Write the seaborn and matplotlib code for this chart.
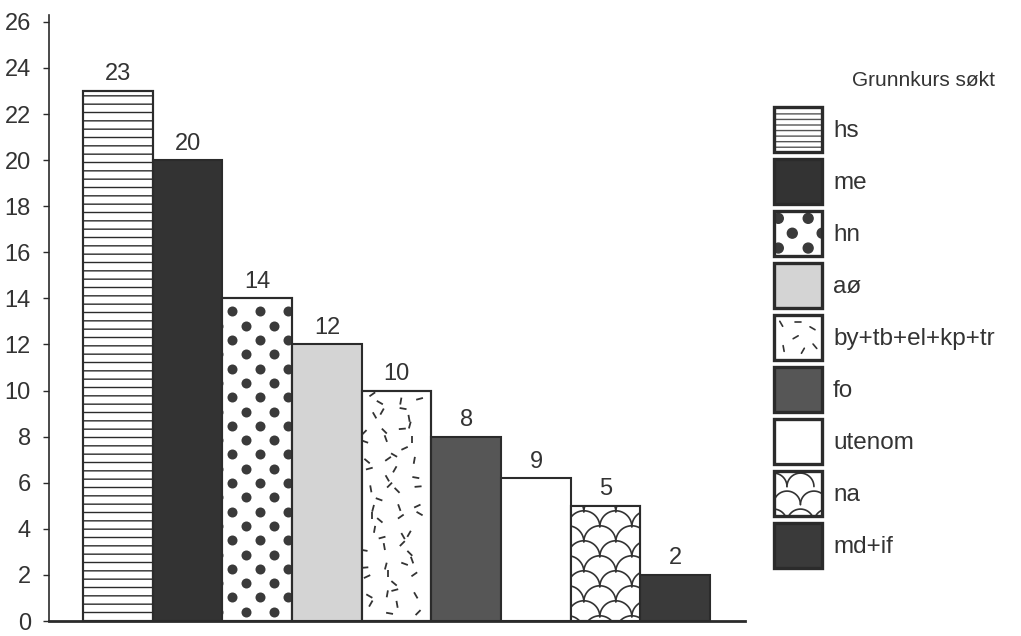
import numpy as np
import pandas as pd
import matplotlib
matplotlib.use('Agg')
import matplotlib.pyplot as plt
import seaborn as sns
from matplotlib.patches import Rectangle, Circle, Polygon, Patch
from matplotlib.collections import LineCollection
from matplotlib.legend_handler import HandlerBase

# data
kurs = ['hs', 'me', 'hn', 'aø', 'by+tb+el+kp+tr', 'fo', 'utenom', 'na', 'md+if']
hoyde = [23, 20, 14, 12, 10, 8, 6.2, 5, 2]
etikett = ['23', '20', '14', '12', '10', '8', '9', '5', '2']

# look of each bar
farger = ['white', '#333333', 'white', '#d4d4d4', 'white', '#565656', 'white', 'white', '#3a3a3a']
monster = ['wave', None, 'dots', None, 'dash', None, None, 'scales', None]
kant = '#2b2b2b'
tekst = '#333333'

sns.set_style('ticks')
plt.rcParams['font.family'] = ['Liberation Sans', 'DejaVu Sans']
plt.rcParams['hatch.linewidth'] = 1.0

fig = plt.figure(figsize=(10.21, 6.36), dpi=100)
ax = fig.add_axes([49/1021, 1 - 621/636, (745 - 49)/1021, (621 - 15)/636])

df = pd.DataFrame({'kurs': kurs, 'antall': hoyde})
sns.barplot(data=df, x='kurs', y='antall', hue='kurs', palette=dict(zip(kurs, farger)),
            width=1.0, saturation=1, edgecolor=kant, linewidth=1.5, legend=False, ax=ax)

ax.set_xlim(-0.99, 9.0)
ax.set_ylim(0, 26.3)
ax.set_xlabel('')
ax.set_ylabel('')
ax.set_xticks([])
ax.set_yticks(range(0, 27, 2))
ax.tick_params(axis='y', direction='out', length=4, width=1, color=kant, labelsize=17, labelcolor=tekst, pad=9)
sns.despine(ax=ax)
ax.spines['left'].set_linewidth(1.2)
ax.spines['left'].set_color(kant)
ax.spines['bottom'].set_linewidth(2)
ax.spines['bottom'].set_color(kant)

# pixels per data unit
t0 = ax.transData.transform((0, 0))
t1 = ax.transData.transform((1, 1))
px = t1[0] - t0[0]
py = t1[1] - t0[1]

bars = {}
for cont in ax.containers:
    for bar in cont:
        i = int(round(bar.get_x() + bar.get_width() / 2))
        bars[i] = bar
    lab = [etikett[int(round(b.get_x() + b.get_width() / 2))] for b in cont]
    ax.bar_label(cont, labels=lab, padding=4, fontsize=17, color=tekst)


def wave(bar):
    bar.set_hatch('--')


def dots(bar):
    x0, w, h = bar.get_x(), bar.get_width(), bar.get_height()
    xs, ys = [], []
    y = h - 13 / py
    row = 0
    while y > -8 / py:
        x = x0 + (10 + (14 if row % 2 else 0) - 28) / px
        while x < x0 + w + 8 / px:
            xs.append(x)
            ys.append(y)
            x += 28 / px
        y -= 14.3 / py
        row += 1
    sc = ax.scatter(xs, ys, s=52, color='#3a3a3a', linewidths=0, zorder=3)
    sc.set_clip_path(bar)


def dash(bar):
    x0, w, h = bar.get_x(), bar.get_width(), bar.get_height()
    vinkler = [35, 150, 80, 15, 120, 60, 170, 100, 45, 135, 5, 75, 160, 110, 25, 90, 140]
    jx = [0.2, -0.3, 0.1, 0.35, -0.15, 0.25, -0.35, 0.0]
    jy = [-0.25, 0.15, 0.3, -0.1, 0.2, -0.3, 0.05, 0.35, -0.2]
    step = 15
    segs = []
    ncol = int(w * px / step)
    nrow = int(h * py / step)
    k = 0
    for i in range(nrow):
        for j in range(ncol):
            cx = x0 + ((j + 0.5 + jx[(i * 3 + j) % 8]) * step) / px
            cy = h - ((i + 0.5 + jy[(i + j * 2) % 9]) * step) / py
            a = np.radians(vinkler[k % len(vinkler)])
            k += 1
            dx, dy = 3.5 * np.cos(a) / px, 3.5 * np.sin(a) / py
            segs.append([(cx - dx, cy - dy), (cx + dx, cy + dy)])
    lc = LineCollection(segs, colors='#333333', linewidths=1.3, zorder=3)
    ax.add_collection(lc)
    lc.set_clip_path(bar)


def scales(bar):
    x0, w, h = bar.get_x(), bar.get_width(), bar.get_height()
    r = 16
    t = np.linspace(0, np.pi, 40)
    row = -1
    z = 3
    while True:
        ctop = h - (5 + 15 * row) / py
        cy = ctop - r / py
        if cy < -r / py:
            break
        cx = x0 + (13 - 32 + (16 if row % 2 else 0)) / px
        while cx < x0 + w + r / px:
            xs = cx + r * np.cos(t) / px
            ys = cy + r * np.sin(t) / py
            fill = Polygon(np.column_stack([xs, ys]), closed=True, facecolor='white', edgecolor='none', zorder=z)
            ax.add_patch(fill)
            fill.set_clip_path(bar)
            line, = ax.plot(xs, ys, color='#333333', lw=1.2, zorder=z + 0.5)
            line.set_clip_path(bar)
            cx += 32 / px
        z += 0.01
        row += 1


tegn = {'wave': wave, 'dots': dots, 'dash': dash, 'scales': scales}
for i, m in enumerate(monster):
    if m:
        tegn[m](bars[i])
        # outline again on top of the pattern
        ax.add_patch(Rectangle((bars[i].get_x(), 0), bars[i].get_width(), bars[i].get_height(),
                               facecolor='none', edgecolor=kant, linewidth=1.5, zorder=8))

ax.set_xlim(-0.99, 9.0)
ax.set_ylim(0, 26.3)
for sp in ax.spines.values():
    sp.set_zorder(20)


class MonsterHandler(HandlerBase):
    def create_artists(self, legend, orig_handle, xdescent, ydescent, width, height, fontsize, trans):
        x0, y0 = -xdescent, -ydescent
        box = Rectangle((x0, y0), width, height, facecolor=orig_handle.get_facecolor(),
                        edgecolor='none', hatch=orig_handle.get_hatch(), transform=trans)
        if orig_handle.get_hatch():
            box.set_edgecolor('#555555')
            box.set_linewidth(0)
        arts = [box]
        kind = orig_handle.get_gid()
        if kind == 'dots':
            rr = 0.11 * height
            for fx, fy in [(0.09, 0.83), (0.71, 0.83), (0.38, 0.5), (1.0, 0.5), (0.09, 0.17), (0.71, 0.17)]:
                c = Circle((x0 + fx * width, y0 + fy * height), rr, color='#3a3a3a', transform=trans)
                c.set_clip_path(box)
                arts.append(c)
        elif kind == 'dash':
            for fx, fy, a in [(0.15, 0.8, 120), (0.5, 0.85, 0), (0.8, 0.7, 150), (0.45, 0.5, 30),
                              (0.2, 0.25, 100), (0.85, 0.3, 130), (0.6, 0.2, 60)]:
                dx = 0.06 * width * np.cos(np.radians(a))
                dy = 0.06 * width * np.sin(np.radians(a))
                cx, cy = x0 + fx * width, y0 + fy * height
                arts.append(plt.Line2D([cx - dx, cx + dx], [cy - dy, cy + dy], color='#333333', lw=1.2, transform=trans))
        elif kind == 'scales':
            rr = 0.28 * width
            tt = np.linspace(0, np.pi, 30)
            rows = [(0.95, 0.55 - 0.56), (0.95, 0.55), (0.55, 0.27 - 0.56), (0.55, 0.27), (0.55, 0.27 + 0.56),
                    (0.15, -0.01), (0.15, 0.55), (0.15, 1.11)]
            for fy, fx in rows:
                cx, cy = x0 + fx * width, y0 + fy * height - rr
                xs = cx + rr * np.cos(tt)
                ys = cy + rr * np.sin(tt)
                f = Polygon(np.column_stack([xs, ys]), closed=True, facecolor='white', edgecolor='none', transform=trans)
                f.set_clip_path(box)
                ln = plt.Line2D(xs, ys, color='#333333', lw=1.2, transform=trans)
                ln.set_clip_path(box)
                arts += [f, ln]
        ramme = Rectangle((x0, y0), width, height, facecolor='none', edgecolor=kant, linewidth=2.4, transform=trans)
        arts.append(ramme)
        return arts


handles = []
for k, f, m in zip(kurs, farger, monster):
    p = Patch(facecolor=f, label=k, gid=m)
    if m == 'wave':
        p.set_hatch('---')
    handles.append(p)

leg = fig.legend(handles=handles, labels=kurs, loc='upper left',
                 bbox_to_anchor=(774/1021, 1 - 71/636), bbox_transform=fig.transFigure,
                 frameon=False, fontsize=17.5, title='Grunnkurs søkt', title_fontsize=15,
                 handlelength=1.98, handleheight=2.47, labelspacing=0.29, handletextpad=0.45,
                 borderpad=0, borderaxespad=0, alignment='right',
                 handler_map={Patch: MonsterHandler()})
leg._legend_box.sep = 12  # a bit more room under the title
for txt in leg.get_texts():
    txt.set_color(tekst)
leg.get_title().set_color(tekst)

fig.savefig('out.png', dpi=100)
